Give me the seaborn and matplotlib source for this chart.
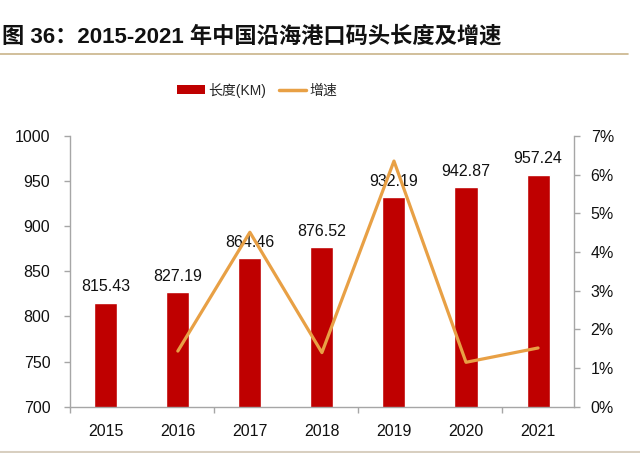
import seaborn as sns
import pandas as pd
import matplotlib.pyplot as plt
import numpy as np
from matplotlib.ticker import PercentFormatter, FixedLocator
from matplotlib.lines import Line2D
from matplotlib.patches import Patch

years = ['2015', '2016', '2017', '2018', '2019', '2020', '2021']
length_km = [815.43, 827.19, 864.46, 876.52, 932.19, 942.87, 957.24]
growth_years = ['2016', '2017', '2018', '2019', '2020', '2021']
growth = [0.0144, 0.0451, 0.0140, 0.0635, 0.0115, 0.0152]

BAR_RED = '#BF0000'
LINE_ORANGE = '#E8A045'
SPINE = '#A6A6A6'

sns.set_style('white')
plt.rcParams['font.family'] = ['Liberation Sans', 'Noto Sans CJK SC']

df = pd.DataFrame({'年份': years, '长度(KM)': length_km})
gdf = pd.DataFrame({'pos': [years.index(y) for y in growth_years], '增速': growth})

fig = plt.figure(figsize=(6.4, 4.53), dpi=100)
ax = fig.add_axes([0.109, 0.102, 0.788, 0.598])

sns.barplot(data=df, x='年份', y='长度(KM)', color=BAR_RED, width=0.32,
            saturation=1, ax=ax)
ax.bar_label(ax.containers[0], fmt='%.2f', padding=6, fontsize=11.5,
             color='#111111')
ax.set_ylim(700, 1000)
ax.set_xlim(-0.5, 6.5)
ax.set_yticks(np.arange(700, 1001, 50))
ax.set_xlabel('')
ax.set_ylabel('')

ax2 = ax.twinx()
sns.lineplot(data=gdf, x='pos', y='增速', color=LINE_ORANGE, linewidth=2.3,
             ax=ax2)
ax2.set_ylim(0, 0.07)
ax2.set_yticks(np.arange(0, 0.071, 0.01))
ax2.yaxis.set_major_formatter(PercentFormatter(1, decimals=0))
ax2.set_xlim(-0.5, 6.5)
ax2.set_xlabel('')
ax2.set_ylabel('')

for a in (ax, ax2):
    for s in a.spines.values():
        s.set_visible(False)
ax.spines['left'].set_visible(True)
ax.spines['bottom'].set_visible(True)
ax2.spines['right'].set_visible(True)
for s in (ax.spines['left'], ax.spines['bottom'], ax2.spines['right']):
    s.set_color(SPINE)
    s.set_linewidth(1.0)

ax.tick_params(axis='y', left=True, length=4, width=1, color=SPINE,
               labelsize=11.5, pad=10, labelcolor='#111111')
ax.tick_params(axis='x', bottom=False, labelsize=11.5, pad=9,
               labelcolor='#111111')
ax.xaxis.set_minor_locator(FixedLocator([-0.5, 1.5, 3.5, 5.5]))
ax.tick_params(axis='x', which='minor', bottom=True, length=4, width=1,
               color=SPINE)
ax2.tick_params(axis='y', right=True, length=4, width=1, color=SPINE,
                labelsize=11.5, pad=8, labelcolor='#111111')

handles = [Patch(facecolor=BAR_RED, edgecolor='none'),
           Line2D([0], [0], color=LINE_ORANGE, linewidth=2.5)]
fig.legend(handles, ['长度(KM)', '增速'], loc='center',
           bbox_to_anchor=(0.402, 0.801), ncol=2, frameon=False,
           fontsize=10, handlelength=2.0, handleheight=0.6,
           handletextpad=0.25, columnspacing=0.9)

fig.text(0.003, 0.918, '图 36：2015-2021 年中国沿海港口码头长度及增速',
         fontsize=16, fontweight='bold', ha='left', va='center',
         color='#111111')
fig.add_artist(Line2D([0, 0.982], [0.881, 0.881], color='#C9B48A',
                      linewidth=1.2, transform=fig.transFigure))
fig.add_artist(Line2D([0, 1], [0.003, 0.003], color='#D8CFC0',
                      linewidth=1.5, transform=fig.transFigure))

fig.savefig('out.png', dpi=100)
